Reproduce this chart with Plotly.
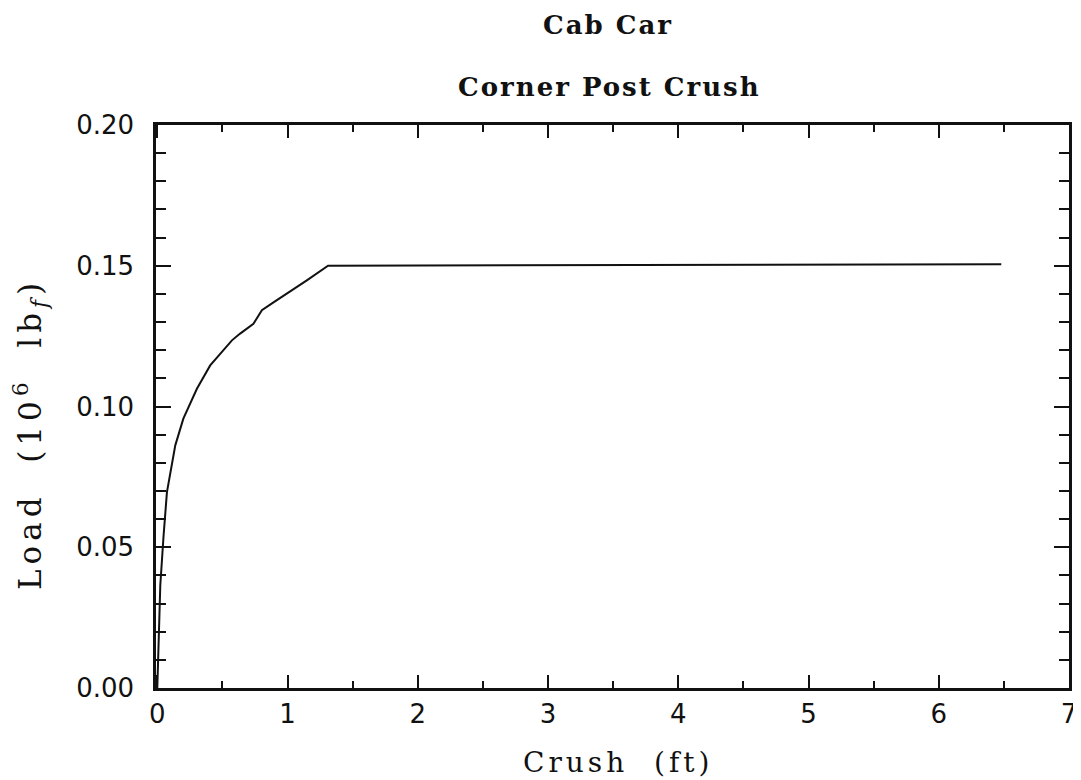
import plotly.graph_objects as go

# Data
crush_ft = [0.0, 0.010, 0.023, 0.048, 0.074, 0.138, 0.200, 0.304, 0.406, 0.573,
            0.636, 0.738, 0.803, 0.892, 0.995, 1.148, 1.311, 6.48]
load_mlbf = [0.0, 0.020, 0.0366, 0.054, 0.0696, 0.0862, 0.0957, 0.1063, 0.1146, 0.1235,
             0.1259, 0.1294, 0.1342, 0.1370, 0.1401, 0.1448, 0.1500, 0.1505]

x_ticks = [0, 1, 2, 3, 4, 5, 6, 7]
y_ticks = [0.00, 0.05, 0.10, 0.15, 0.20]

title_lines = ["Cab Car", "Corner Post Crush"]
x_title = "Crush  (ft)"
y_title = "Load  (10<sup>6</sup>  lb<sub><i>f</i></sub>)"

INK = "#111111"
SERIF = "DejaVu Serif"
SANS = "DejaVu Sans"


def spaced(text, px):
    return f'<span style="letter-spacing:{px}px">{text}</span>'


fig = go.Figure()
fig.add_trace(go.Scatter(x=crush_ft, y=load_mlbf, mode="lines",
                         line=dict(color=INK, width=2), showlegend=False))

axis_common = dict(
    showgrid=False, zeroline=False, showline=True, linecolor=INK, linewidth=2.5,
    mirror="ticks", ticks="inside", tickcolor=INK, tickwidth=2,
)

fig.update_xaxes(
    **axis_common, range=[-0.01, 7], tickvals=x_ticks, ticklen=13,
    ticktext=[str(v) for v in x_ticks],
    tickfont=dict(family=SANS, size=26, color=INK), ticklabelstandoff=1,
    minor=dict(dtick=0.5, ticklen=7, ticks="inside", tickcolor=INK, tickwidth=2),
)
fig.update_yaxes(
    **axis_common, range=[0, 0.2], tickvals=y_ticks, ticklen=15,
    ticktext=[f"{v:.2f}" for v in y_ticks],
    tickfont=dict(family=SANS, size=26, color=INK), ticklabelstandoff=14,
    minor=dict(dtick=0.01, ticklen=10, ticks="inside", tickcolor=INK, tickwidth=2),
)

annotations = [
    dict(text=spaced(title_lines[0], 2), x=0.495, y=1.178,
         font=dict(family=SERIF, size=26, color=INK, weight="bold")),
    dict(text=spaced(title_lines[1], 2), x=0.497, y=1.067,
         font=dict(family=SERIF, size=26, color=INK, weight="bold")),
    dict(text=spaced(x_title, 4), x=0.507, y=-0.132,
         font=dict(family=SERIF, size=28, color=INK)),
    dict(text=spaced(y_title, 5), x=-0.138, y=0.451, textangle=-90,
         font=dict(family=SERIF, size=31, color=INK)),
]
for a in annotations:
    a.update(xref="paper", yref="paper", showarrow=False, xanchor="center", yanchor="middle")

fig.update_layout(
    width=1081, height=780,
    margin=dict(l=148, r=20, t=117, b=100),
    paper_bgcolor="white", plot_bgcolor="white",
    annotations=annotations,
)

fig.write_html("out.html")
